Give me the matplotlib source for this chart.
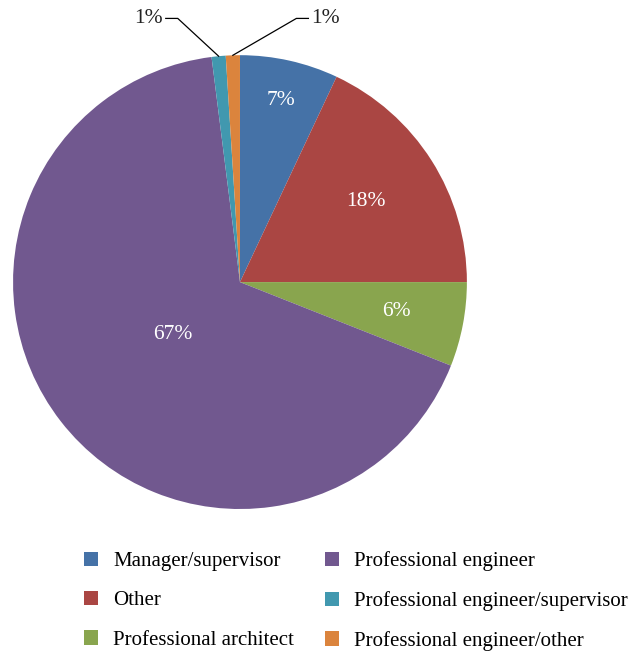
import numpy as np
import matplotlib
matplotlib.use("Agg")
import matplotlib.pyplot as plt
from matplotlib.patches import Patch

plt.rcParams['font.family'] = ['Liberation Serif', 'DejaVu Serif']

categories = ["Manager/supervisor", "Other", "Professional architect",
              "Professional engineer", "Professional engineer/supervisor",
              "Professional engineer/other"]
shares = [7, 18, 6, 67, 1, 1]
colors = ["#4572A7", "#AA4643", "#89A54E", "#71588F", "#4198AF", "#DB843D"]

fig = plt.figure(figsize=(6.43, 6.53), dpi=100)
ax = fig.add_axes([0.0202, 0.2205, 0.706, 0.695])

wedges, _ = ax.pie(shares, colors=colors, startangle=90, counterclock=False,
                   radius=1.0, wedgeprops=dict(linewidth=0))
ax.set_xlim(-1, 1)
ax.set_ylim(-1, 1)
ax.set_aspect('equal')
ax.axis('off')

# inside labels: radial fraction per slice
inside_r = [0.82, 0.66, 0.70, 0.375]
for w, val, r in zip(wedges[:4], shares[:4], inside_r):
    mid = np.deg2rad((w.theta1 + w.theta2) / 2)
    ax.text(r * np.cos(mid), r * np.sin(mid), f"{val}%", color="white",
            fontsize=15.5, ha="center", va="center")

# outside labels with leader lines for the two small slices
elbow_offsets = [-0.18, 0.28]
for w, val, off in zip(wedges[4:], shares[4:], elbow_offsets):
    side = np.sign(off)
    mid = np.deg2rad((w.theta1 + w.theta2) / 2)
    x0, y0 = np.cos(mid), np.sin(mid)
    elbow_x = x0 + off
    elbow_y = 1.162
    end_x = elbow_x + side * 0.053
    ax.plot([x0, elbow_x, end_x], [y0, elbow_y, elbow_y], color="black",
            lw=0.9, clip_on=False)
    ax.text(end_x + side * 0.012, elbow_y, f"{val}%", fontsize=15.5,
            ha="left" if side > 0 else "right", va="center", color="#222222")

handles = [Patch(facecolor=c, edgecolor='none') for c in colors]
fig.legend(handles, categories, loc="upper left", ncol=2, frameon=False,
           bbox_to_anchor=(0.1306, 0.156), fontsize=15, handlelength=0.67,
           handleheight=0.67, handletextpad=0.72, columnspacing=1.5,
           labelspacing=0.96, borderaxespad=0, borderpad=0)

fig.savefig("out.png", dpi=100)
